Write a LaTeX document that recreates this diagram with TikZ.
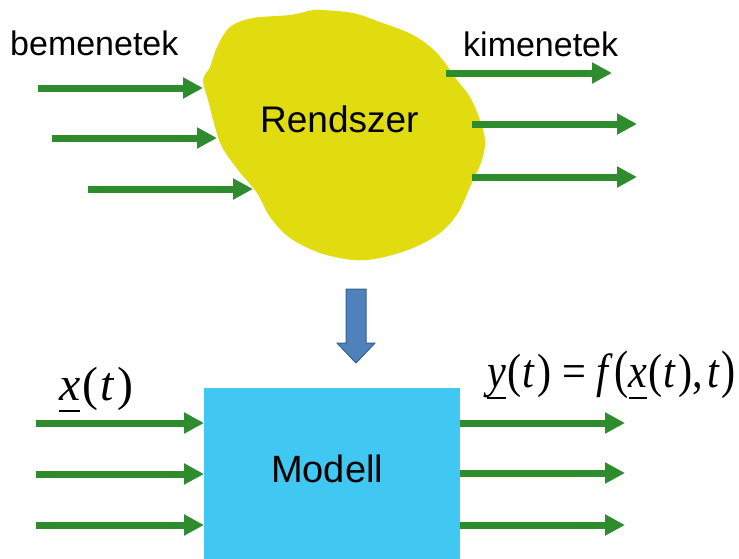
\documentclass[tikz,border=0pt]{standalone}
\usepackage{fontspec}
\setmainfont{Liberation Sans}
\newfontfamily\mathserif{Liberation Serif}
\usetikzlibrary{arrows.meta}

\definecolor{flowgreen}{RGB}{46,139,46}
\definecolor{blobyellow}{RGB}{224,220,16}
\definecolor{boxcyan}{RGB}{64,200,242}
\definecolor{stepblue}{RGB}{79,129,189}
\definecolor{stepedge}{RGB}{56,93,138}

% underlined italic symbol (vector quantity)
\newcommand\vecsym[1]{\vtop{\hbox{\raisebox{0pt}[\height][0pt]{\itshape #1}}\kern0.2em\hrule height 0.045em}}

\tikzset{
  flow/.style={draw=flowgreen, line width=7pt,
    -{Triangle[length=20pt,width=20pt]}},
  label text/.style={font=\fontsize{34}{40}\selectfont, inner sep=0pt, anchor=base west},
  formula/.style={font=\mathserif\fontsize{48}{54}\selectfont, inner sep=0pt, anchor=base west},
}

\begin{document}
\begin{tikzpicture}[x=1pt, y=-1pt]
\useasboundingbox (0,0) rectangle (739,558);

% ---- the real system: an irregular blob ----
\fill[blobyellow] plot[smooth cycle, tension=0.55] coordinates {
  (323,10) (353,13) (380,22) (413,35) (437,53) (457,80) (470,97) (480,120)
  (485,140) (482,160) (470,187) (458,213) (440,233) (413,248) (380,258)
  (353,260) (320,253) (290,238) (270,217) (257,193) (238,170) (222,147)
  (215,127) (208,100) (203,80) (210,67) (217,47) (230,27) (253,18) (290,15) (313,10)};
\node[font=\fontsize{37}{44}\selectfont, inner sep=0pt, anchor=base west]
  (system) at (260,132) {Rendszer};

\node[label text] (inlabel) at (10,55) {bemenetek};
\node[label text] (outlabel) at (463,56) {kimenetek};

% inputs of the system
\coordinate (si1) at (38,88);   \coordinate (se1) at (203,88);
\coordinate (si2) at (52,138);  \coordinate (se2) at (217,138);
\coordinate (si3) at (88,189);  \coordinate (se3) at (253,189);
\draw[flow] (si1) -- (se1);
\draw[flow] (si2) -- (se2);
\draw[flow] (si3) -- (se3);

% outputs of the system
\coordinate (so1) at (446,73);  \coordinate (sf1) at (612,73);
\coordinate (so2) at (472,124); \coordinate (sf2) at (637,124);
\coordinate (so3) at (472,177); \coordinate (sf3) at (637,177);
\draw[flow] (so1) -- (sf1);
\draw[flow] (so2) -- (sf2);
\draw[flow] (so3) -- (sf3);

% ---- modelling step: block arrow ----
\filldraw[fill=stepblue, draw=stepedge, line width=1pt]
  (346,289) -- (366,289) -- (366,343) -- (375,343) -- (356,363)
  -- (337,343) -- (346,343) -- cycle;

% ---- the model ----
\node[fill=boxcyan, inner sep=0pt, minimum width=256pt, minimum height=172pt,
  anchor=north west] (model) at (204,388) {};
\node[font=\fontsize{38}{45}\selectfont, inner sep=0pt, anchor=base west]
  (modeltext) at (271,482) {Modell};

\node[formula] (xt) at (59,400)
  {\resizebox{74pt}{\height}{\vecsym{x}\kern0.04em(\kern0.04em\textit{t}\kern0.06em)}};
\node[formula] (yt) at (487,387)
  {\resizebox{248pt}{\height}{\vecsym{y}\kern0.03em(\kern0.03em\textit{t}\kern0.05em)\kern0.25em=\kern0.25em\textit{f}\kern0.03em\scalebox{1}[1.1]{(}\vecsym{x}\kern0.03em(\kern0.03em\textit{t}\kern0.05em),\kern0.1em\textit{t}\kern0.02em\scalebox{1}[1.1]{)}}};

% model inputs and outputs
\coordinate (mi1) at (36,423);
\coordinate (mi2) at (36,474);
\coordinate (mi3) at (36,525);
\draw[flow] (mi1) -- (mi1 -| model.west);
\draw[flow] (mi2) -- (mi2 -| model.west);
\draw[flow] (mi3) -- (mi3 -| model.west);

\coordinate (mo1) at (625,423);
\coordinate (mo2) at (625,473);
\coordinate (mo3) at (625,525);
\draw[flow] (mo1 -| model.east) -- (mo1);
\draw[flow] (mo2 -| model.east) -- (mo2);
\draw[flow] (mo3 -| model.east) -- (mo3);
\end{tikzpicture}
\end{document}
